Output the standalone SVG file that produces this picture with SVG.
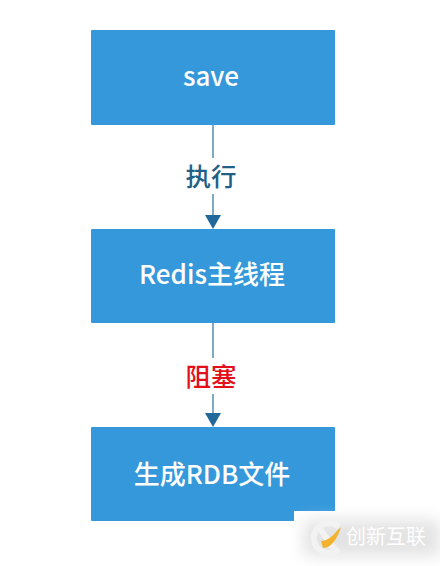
<svg xmlns="http://www.w3.org/2000/svg" width="440" height="566" viewBox="0 0 440 566">
<style>
.box{fill:#3498db}
.t{font-family:"Noto Sans CJK SC",sans-serif;font-size:26px;font-weight:500;fill:#fff;text-anchor:middle}
.l{font-family:"Noto Sans CJK SC",sans-serif;font-size:25.5px;font-weight:500;text-anchor:middle}
.c{stroke:#7fa9c4;stroke-width:2;fill:none}
.a{fill:#21699b}
</style>
<defs>
<filter id="b" x="-30%" y="-60%" width="160%" height="220%"><feGaussianBlur stdDeviation="8"/></filter>
</defs>
<rect width="440" height="566" fill="#fff"/>
<g id="connectors">
<path class="c" d="M213 125V158M213 194V218"/>
<path class="a" d="M205 215H221L213 229Z"/>
<path class="c" d="M213 323V358M213 394V416"/>
<path class="a" d="M205 413H221L213 427Z"/>
</g>
<g id="node-save"><rect class="box" x="91" y="30" width="244" height="95" rx="1"/><text class="t" x="211" y="86">save</text></g>
<g id="node-redis"><rect class="box" x="91" y="229" width="244" height="94" rx="1"/><text class="t" x="212" y="284">Redis主线程</text></g>
<g id="node-rdb"><rect class="box" x="91" y="427" width="244" height="94" rx="1"/><text class="t" x="212" y="484">生成RDB文件</text></g>
<g id="label-exec"><text class="l" x="211" y="186" fill="#215f85">执行</text></g>
<g id="label-block"><text class="l" x="211" y="386" fill="#e3101a" font-weight="700">阻塞</text></g>
<g id="watermark">
<rect x="294" y="511" width="146" height="55" fill="#fff"/>
<rect x="304" y="520" width="136" height="36" fill="#dcdcdc" opacity=".8" filter="url(#b)"/>
<path d="M339 527A15 15 0 1 0 339 549" fill="none" stroke="#f2f2f2" stroke-width="6"/>
<path d="M316 528L323 528L338 549L330 549Z" fill="#f2f2f2"/>
<path d="M321 541C330 541 335 532 341 527C338 537 332 548 323 548Z" fill="#f2b22e"/>
<text x="346" y="544" font-family="Noto Sans CJK SC,sans-serif" font-size="20" fill="#fff">创新互联</text>
</g>
</svg>
